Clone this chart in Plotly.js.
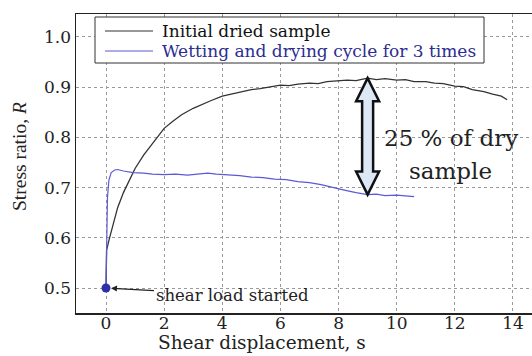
<!DOCTYPE html>
<html>
<head>
<meta charset="utf-8">
<script src="https://cdn.plot.ly/plotly-3.0.1.min.js"></script>
<style>
  html, body { margin: 0; padding: 0; background: #fff; }
  #chart { width: 532px; height: 356px; }
</style>
</head>
<body>
<div id="chart"></div>
<script>
// Shear displacement s vs. stress ratio R
const dryX = [0, 0, 0.02, 0.1, 0.25, 0.4, 0.6, 0.8, 1.0, 1.3, 1.5, 1.76, 2.0, 2.3, 2.6, 3.0, 3.3, 3.6, 4.0, 4.3, 4.6, 5.0, 5.3, 5.6, 6.0, 6.3, 6.6, 7.0, 7.3, 7.6, 8.0, 8.3, 8.6, 9.0, 9.3, 9.6, 10.0, 10.3, 10.6, 11.0, 11.3, 11.6, 12.0, 12.3, 12.6, 13.0, 13.3, 13.6, 13.8];
const dryR = [0.5, 0.55, 0.575, 0.595, 0.63, 0.66, 0.69, 0.715, 0.738, 0.765, 0.78, 0.80, 0.818, 0.832, 0.845, 0.858, 0.866, 0.873, 0.882, 0.886, 0.891, 0.895, 0.897, 0.900, 0.904, 0.903, 0.906, 0.908, 0.907, 0.911, 0.912, 0.914, 0.913, 0.918, 0.915, 0.917, 0.914, 0.915, 0.911, 0.911, 0.908, 0.907, 0.902, 0.901, 0.895, 0.891, 0.886, 0.882, 0.875];

const wetX = [0, 0.02, 0.05, 0.1, 0.18, 0.3, 0.4, 0.6, 0.93, 1.3, 1.6, 2.0, 2.4, 2.8, 3.2, 3.5, 3.8, 4.2, 4.6, 5.0, 5.4, 5.8, 6.2, 6.6, 7.0, 7.4, 7.8, 8.2, 8.6, 9.0, 9.3, 9.6, 10.0, 10.3, 10.6];
const wetR = [0.5, 0.6, 0.68, 0.715, 0.73, 0.735, 0.736, 0.733, 0.73, 0.729, 0.727, 0.726, 0.727, 0.725, 0.727, 0.729, 0.727, 0.726, 0.724, 0.721, 0.72, 0.717, 0.716, 0.712, 0.71, 0.706, 0.7, 0.695, 0.69, 0.686, 0.687, 0.684, 0.685, 0.683, 0.682];

const seriesNames = ['Initial dried sample', 'Wetting and drying cycle for 3 times'];
const xTicks = [0, 2, 4, 6, 8, 10, 12, 14];
const yTicks = [0.5, 0.6, 0.7, 0.8, 0.9, 1.0];

const W = 532, H = 356;
const M = { l: 76, r: 0, t: 14, b: 43 };
const PW = W - M.l - M.r, PH = H - M.t - M.b;
const xRange = [-1.032, 14.655];
const yRange = [0.4502, 1.0458];
const pxX = PW / (xRange[1] - xRange[0]);
const pxY = PH / (yRange[1] - yRange[0]);
// page pixel -> paper fraction
const paperX = p => (p - M.l) / PW;
const paperY = p => (H - M.b - p) / PH;

const serif = 'DejaVu Serif, serif';
const darkLine = '#333333';
const blueLine = '#5a5ad6';
const blueText = '#2c2c92';
const seriesLine = [darkLine, blueLine];
const seriesText = ['#111', blueText];

// The double arrow spans the gap between the dry peak and the wetted curve
let peakIdx = 0;
dryR.forEach((v, i) => { if (v > dryR[peakIdx]) peakIdx = i; });
const arrowX = dryX[peakIdx];
const arrowTop = dryR[peakIdx];
const arrowBot = wetR[wetX.indexOf(arrowX)];
const hw = 11.5 / pxX, bw = 5.5 / pxX, hl = 23 / pxY;
const arrowPath = [
  `M${arrowX},${arrowTop}`,
  `L${arrowX + hw},${arrowTop - hl}`, `L${arrowX + bw},${arrowTop - hl}`,
  `L${arrowX + bw},${arrowBot + hl}`, `L${arrowX + hw},${arrowBot + hl}`,
  `L${arrowX},${arrowBot}`,
  `L${arrowX - hw},${arrowBot + hl}`, `L${arrowX - bw},${arrowBot + hl}`,
  `L${arrowX - bw},${arrowTop - hl}`, `L${arrowX - hw},${arrowTop - hl}`, 'Z'
].join(' ');

const traces = [
  {
    x: dryX, y: dryR, type: 'scatter', mode: 'lines',
    name: seriesNames[0], showlegend: false,
    line: { color: seriesLine[0], width: 1.3 }
  },
  {
    x: wetX, y: wetR, type: 'scatter', mode: 'lines',
    name: seriesNames[1], showlegend: false,
    line: { color: seriesLine[1], width: 1.2 }
  },
  {
    x: [dryX[0]], y: [dryR[0]], type: 'scatter', mode: 'markers',
    showlegend: false,
    marker: { color: '#2e2ea8', size: 9 }
  }
];

// Boxed key in the upper-left corner
const keyBox = { x0: 95, x1: 484, y0: 17, y1: 63 };
const keyRows = [31, 51];
const keyShapes = [
  {
    type: 'rect', xref: 'paper', yref: 'paper',
    x0: paperX(keyBox.x0), x1: paperX(keyBox.x1),
    y0: paperY(keyBox.y1), y1: paperY(keyBox.y0),
    fillcolor: '#fff', line: { color: '#333', width: 1 }, layer: 'above'
  }
].concat(keyRows.map((r, i) => ({
  type: 'line', xref: 'paper', yref: 'paper',
  x0: paperX(105), x1: paperX(153), y0: paperY(r), y1: paperY(r),
  line: { color: seriesLine[i], width: 1.2 }, layer: 'above'
})));
const keyLabels = keyRows.map((r, i) => ({
  x: paperX(160), y: paperY(r), xref: 'paper', yref: 'paper',
  xanchor: 'left', yanchor: 'middle', showarrow: false,
  text: seriesNames[i], font: { family: serif, size: 17, color: seriesText[i] }
}));

const layout = {
  width: W, height: H,
  margin: M,
  paper_bgcolor: '#fff', plot_bgcolor: '#fff',
  font: { family: serif, color: '#222', size: 16 },
  showlegend: false,
  xaxis: {
    range: xRange, tickvals: xTicks, ticktext: xTicks.map(String),
    showgrid: true, gridcolor: '#9a9a9a', griddash: 'dot', gridwidth: 1,
    zeroline: false, showline: true, linecolor: '#222', linewidth: 1.5, mirror: true,
    ticks: '', ticklabelstandoff: -6, tickfont: { family: serif, size: 17, color: '#222' }
  },
  yaxis: {
    range: yRange, tickvals: yTicks, ticktext: yTicks.map(v => v.toFixed(1)),
    showgrid: true, gridcolor: '#9a9a9a', griddash: 'dot', gridwidth: 1,
    zeroline: false, showline: true, linecolor: '#222', linewidth: 1.5,
    ticks: '', ticklabelstandoff: 0, tickfont: { family: serif, size: 17, color: '#222' }
  },
  shapes: [
    {
      type: 'path', xref: 'x', yref: 'y', path: arrowPath,
      fillcolor: '#dde8f6', line: { color: '#111', width: 2.5 }
    }
  ].concat(keyShapes),
  annotations: [
    {
      x: 11.86, y: 0.798, xref: 'x', yref: 'y', showarrow: false,
      text: '25 % of dry', font: { family: serif, size: 23, color: '#222' }
    },
    {
      x: 11.86, y: 0.733, xref: 'x', yref: 'y', showarrow: false,
      text: 'sample', font: { family: serif, size: 23, color: '#222' }
    },
    {
      x: dryX[0], y: dryR[0], xref: 'x', yref: 'y',
      text: 'shear load started', showarrow: true,
      ax: 126, ay: 7, axref: 'pixel', ayref: 'pixel',
      arrowhead: 2, arrowsize: 1, arrowwidth: 1.2, arrowcolor: '#222', standoff: 5,
      font: { family: serif, size: 16.5, color: '#222' }
    },
    {
      x: paperX(262), y: paperY(342), xref: 'paper', yref: 'paper',
      showarrow: false, xanchor: 'center', yanchor: 'middle',
      text: 'Shear displacement, s', font: { family: serif, size: 18.5, color: '#222' }
    },
    {
      x: paperX(19), y: paperY(157), xref: 'paper', yref: 'paper', showarrow: false,
      xanchor: 'center', yanchor: 'middle',
      textangle: -90, text: 'Stress ratio, <i>R</i>',
      font: { family: 'Liberation Serif, serif', size: 19.5, color: '#222' }
    }
  ].concat(keyLabels)
};

Plotly.newPlot('chart', traces, layout, { displayModeBar: false, staticPlot: true });
</script>
</body>
</html>
